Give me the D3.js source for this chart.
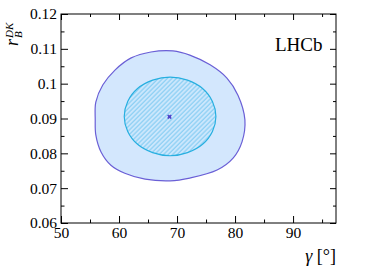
<!DOCTYPE html>
<html>
<head>
<meta charset="utf-8">
<script src="https://cdn.jsdelivr.net/npm/d3@7"></script>
<style>
  body { margin: 0; background: #fff; }
  text { font-family: "Liberation Serif", "Times New Roman", serif; }
</style>
</head>
<body>
<script>
var width = 374;
var height = 269;

// contours (gamma in degrees, r_B)
var outerGamma = [55.9, 56.0, 57.2, 59.3, 62.1, 65.5, 69.3, 72.2, 75.7, 78.6, 80.5, 81.7, 81.2, 79.7, 76.9, 72.2, 68.8, 64.5, 61.0, 58.6, 56.9, 56.0];
var outerRB    = [0.0896, 0.0947, 0.0996, 0.1039, 0.1074, 0.1091, 0.1094, 0.1082, 0.1054, 0.1016, 0.0967, 0.0896, 0.0833, 0.0787, 0.0752, 0.0729, 0.0721, 0.0726, 0.0743, 0.0766, 0.0804, 0.0853];
var innerGamma = [76.7, 76.1, 74.4, 71.8, 68.8, 65.8, 63.2, 61.5, 60.9, 61.5, 63.2, 65.8, 68.8, 71.8, 74.4, 76.1];
var innerRB    = [0.0906, 0.0949, 0.0986, 0.1010, 0.1019, 0.1010, 0.0986, 0.0949, 0.0906, 0.0863, 0.0826, 0.0802, 0.0793, 0.0802, 0.0826, 0.0863];
var bestFit = [68.7, 0.0905];

var xTicks = [50, 60, 70, 80, 90];
var xMinor = [55, 65, 75, 85, 95];
var yTicks = [0.06, 0.07, 0.08, 0.09, 0.1, 0.11, 0.12];
var yMinor = [0.065, 0.075, 0.085, 0.095, 0.105, 0.115];

var pLeft = 61, pRight = 336, pTop = 14, pBottom = 223;

var svg = d3.select('body').append('svg')
  .attr('width', width)
  .attr('height', height);

var x = d3.scaleLinear().domain([50, 97.4]).range([pLeft, pRight]);
var y = d3.scaleLinear().domain([0.06, 0.12]).range([pBottom, pTop]);

// hatch pattern for the inner contour
var defs = svg.append('defs');
var pat = defs.append('pattern')
  .attr('id', 'hatch')
  .attr('patternUnits', 'userSpaceOnUse')
  .attr('width', 3.2)
  .attr('height', 3.2)
  .attr('patternTransform', 'rotate(45)');
pat.append('rect').attr('width', 3.2).attr('height', 3.2).attr('fill', '#cfe8fd');
pat.append('line')
  .attr('x1', 1).attr('y1', 0).attr('x2', 1).attr('y2', 3.2)
  .attr('stroke', '#8fd0f4').attr('stroke-width', 1.4);

var line = d3.line()
  .x(function(d){ return x(d[0]); })
  .y(function(d){ return y(d[1]); })
  .curve(d3.curveCatmullRomClosed.alpha(0.5));

var outer = outerGamma.map(function(g, i){ return [g, outerRB[i]]; });
var inner = innerGamma.map(function(g, i){ return [g, innerRB[i]]; });

svg.append('path')
  .attr('d', line(outer))
  .attr('fill', '#d3e7fd')
  .attr('stroke', '#6a5fd6')
  .attr('stroke-width', 1.2);

svg.append('path')
  .attr('d', line(inner))
  .attr('fill', 'url(#hatch)')
  .attr('stroke', '#27afe0')
  .attr('stroke-width', 1.2);

// best fit marker
var cx = x(bestFit[0]), cy = y(bestFit[1]);
svg.append('path')
  .attr('d', d3.symbol().type(d3.symbolCross).size(14)())
  .attr('transform', 'translate(' + cx + ',' + cy + ') rotate(45)')
  .attr('fill', '#5a4fd0');
svg.append('path')
  .attr('d', d3.symbol().type(d3.symbolSquare).size(6)())
  .attr('transform', 'translate(' + cx + ',' + cy + ')')
  .attr('fill', '#4a40c8');

// axes with inward ticks
var axisStyle = function(g) {
  g.selectAll('.domain').remove();
  g.selectAll('line').attr('stroke', '#000');
  g.selectAll('text').attr('font-size', '15.5px').attr('fill', '#000')
    .style('font-family', '"Liberation Serif", serif');
};

svg.append('g')
  .attr('transform', 'translate(0,' + pBottom + ')')
  .call(d3.axisBottom(x).tickValues(xTicks).tickSize(-7).tickPadding(4).tickFormat(d3.format('d')))
  .call(axisStyle);
svg.append('g')
  .attr('transform', 'translate(0,' + pBottom + ')')
  .call(d3.axisBottom(x).tickValues(xMinor).tickSize(-3.5).tickFormat(''))
  .call(axisStyle);
svg.append('g')
  .attr('transform', 'translate(0,' + pTop + ')')
  .call(d3.axisTop(x).tickValues(xTicks).tickSize(-6).tickFormat(''))
  .call(axisStyle);
svg.append('g')
  .attr('transform', 'translate(0,' + pTop + ')')
  .call(d3.axisTop(x).tickValues(xMinor).tickSize(-3).tickFormat(''))
  .call(axisStyle);

svg.append('g')
  .attr('transform', 'translate(' + pLeft + ',0)')
  .call(d3.axisLeft(y).tickValues(yTicks).tickSize(-7).tickPadding(4).tickFormat(function(d){ return String(+d.toFixed(2)); }))
  .call(axisStyle);
svg.append('g')
  .attr('transform', 'translate(' + pLeft + ',0)')
  .call(d3.axisLeft(y).tickValues(yMinor).tickSize(-3.5).tickFormat(''))
  .call(axisStyle);
svg.append('g')
  .attr('transform', 'translate(' + pRight + ',0)')
  .call(d3.axisRight(y).tickValues(yTicks).tickSize(-6).tickFormat(''))
  .call(axisStyle);
svg.append('g')
  .attr('transform', 'translate(' + pRight + ',0)')
  .call(d3.axisRight(y).tickValues(yMinor).tickSize(-3).tickFormat(''))
  .call(axisStyle);

// frame
svg.append('rect')
  .attr('x', pLeft).attr('y', pTop)
  .attr('width', pRight - pLeft).attr('height', pBottom - pTop)
  .attr('fill', 'none').attr('stroke', '#000').attr('stroke-width', 1);

// titles
svg.append('text')
  .attr('x', pRight).attr('y', 262)
  .attr('text-anchor', 'end')
  .attr('font-size', '18px')
  .html('<tspan font-style="italic">\u03b3</tspan> [\u00b0]');

var yt = svg.append('g').attr('transform', 'translate(18,46) rotate(-90)');
yt.append('text').attr('x', 0).attr('y', 0).attr('font-size', '18px').attr('font-style', 'italic').text('r');
yt.append('text').attr('x', 8).attr('y', 4).attr('font-size', '11px').attr('font-style', 'italic').text('B');
yt.append('text').attr('x', 8).attr('y', -5).attr('font-size', '11px').attr('font-style', 'italic').text('DK');

svg.append('text')
  .attr('x', 275).attr('y', 51)
  .attr('font-size', '19px')
  .text('LHCb');
</script>
</body>
</html>
